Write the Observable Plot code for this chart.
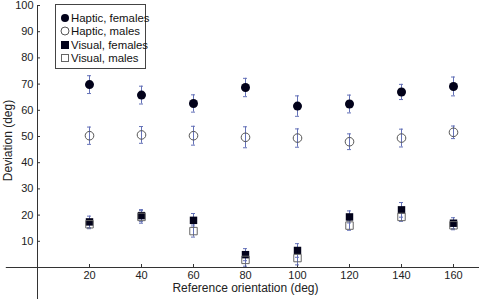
<!DOCTYPE html>
<html>
<head>
<meta charset="utf-8">
<script src="https://cdn.jsdelivr.net/npm/d3@7"></script>
<script src="https://cdn.jsdelivr.net/npm/@observablehq/plot@0.6"></script>
<style>
  html, body { margin: 0; padding: 0; background: #fff; }
  #chart { position: relative; width: 481px; height: 299px; font-family: "Liberation Sans", Arial, sans-serif; }
  #legend { position: absolute; left: 55px; top: 4px; width: 89px; height: 63px; border: 1px solid #444; background: #fff; font-size: 11.4px; color: #111; }
  #legend .row { position: absolute; left: 0; height: 14px; line-height: 14px; white-space: nowrap; }
  #legend svg { position: absolute; left: 4px; top: 2px; }
  #legend span { position: absolute; left: 15px; top: 0; }
</style>
</head>
<body>
<div id="chart"></div>
<script>
const orientations = [20, 40, 60, 80, 100, 120, 140, 160];
const hapticFemales = [69.8, 65.8, 62.6, 68.7, 61.6, 62.4, 67.0, 69.1];
const hapticFemalesErr = [3.4, 3.4, 3.3, 3.5, 3.9, 3.4, 2.9, 3.6];
const hapticMales = [50.3, 50.6, 50.3, 49.7, 49.4, 48.0, 49.4, 51.6];
const hapticMalesErr = [3.3, 3.2, 3.6, 4.0, 3.5, 3.0, 3.4, 2.4];
const visualFemales = [17.4, 19.8, 18.0, 4.9, 6.5, 19.3, 22.0, 16.9];
const visualFemalesErr = [2.2, 2.3, 2.6, 2.3, 2.6, 2.3, 2.8, 2.1];
const visualMales = [16.5, 19.3, 13.9, 2.9, 3.6, 16.0, 19.3, 16.1];
const visualMalesErr = [1.7, 2.4, 2.3, 2.4, 2.6, 1.8, 1.7, 1.7];
const seriesNames = ["Haptic, females", "Haptic, males", "Visual, females", "Visual, males"];
const xTicks = [20, 40, 60, 80, 100, 120, 140, 160];
const yTicks = [10, 20, 30, 40, 50, 60, 70, 80, 90, 100];
const xLabel = "Reference orientation (deg)";
const yLabel = "Deviation (deg)";

const seriesValues = [hapticFemales, hapticMales, visualFemales, visualMales];
const seriesErrs = [hapticFemalesErr, hapticMalesErr, visualFemalesErr, visualMalesErr];
const styles = [
  {symbol: "circle", fill: "#02021a", stroke: "none", r: 4.5},
  {symbol: "circle", fill: "none", stroke: "#555", r: 4.3},
  {symbol: "square", fill: "#02021a", stroke: "none", r: 4.2},
  {symbol: "square", fill: "none", stroke: "#666", r: 4.2}
];
const rows = [];
seriesNames.forEach((name, s) => {
  orientations.forEach((x, i) => {
    rows.push({series: name, s, x, y: seriesValues[s][i], lo: seriesValues[s][i] - seriesErrs[s][i], hi: seriesValues[s][i] + seriesErrs[s][i]});
  });
});

const axisColor = "#333";
const errColor = "#6572b8";
const font = "Liberation Sans, Arial, sans-serif";

const plot = Plot.plot({
  width: 481,
  height: 299,
  marginLeft: 37,
  marginRight: 28,
  marginTop: 5,
  marginBottom: 32,
  style: {fontFamily: font, fontSize: "11px", color: "#222", background: "#fff"},
  x: {domain: [0, 160]},
  y: {domain: [0, 100]},
  marks: [
    Plot.ruleY([0], {x1: -12, x2: 170, stroke: axisColor, clip: false}),
    Plot.ruleX([0], {y1: -13, y2: 100, stroke: axisColor, clip: false}),
    Plot.axisX({ticks: xTicks, tickSize: -3, tickPadding: 7, stroke: axisColor, label: null, fontSize: 11, fill: "#222"}),
    Plot.axisY({ticks: yTicks, tickSize: -3, tickPadding: 7, stroke: axisColor, label: null, fontSize: 11, fill: "#222"}),
    Plot.text([xLabel], {frameAnchor: "bottom", dy: 24, fontSize: 12, fill: "#222"}),
    Plot.text([yLabel], {frameAnchor: "left", textAnchor: "middle", dx: -29, dy: 4, rotate: -90, fontSize: 12, fill: "#222"}),
    Plot.ruleX(rows, {x: "x", y1: "lo", y2: "hi", stroke: errColor, strokeWidth: 1}),
    Plot.ruleY(rows, {x1: "x", x2: "x", y: "hi", insetLeft: -2, insetRight: -2, stroke: errColor}),
    Plot.ruleY(rows, {x1: "x", x2: "x", y: "lo", insetLeft: -2, insetRight: -2, stroke: errColor}),
    ...styles.map((st, s) => Plot.dot(rows.filter(d => d.s === s), {x: "x", y: "y", symbol: st.symbol, r: st.r, fill: st.fill, stroke: st.stroke, strokeWidth: 1}))
  ]
});

const chart = document.getElementById("chart");
chart.appendChild(plot);

const legend = document.createElement("div");
legend.id = "legend";
seriesNames.forEach((name, s) => {
  const st = styles[s];
  const row = document.createElement("div");
  row.className = "row";
  row.style.top = (6 + s * 13.4) + "px";
  const sym = st.symbol === "circle"
    ? `<circle cx="5" cy="5" r="4" fill="${st.fill}" stroke="${st.stroke}"/>`
    : (st.fill === "none"
        ? `<rect x="1.5" y="1.5" width="7" height="7" fill="none" stroke="${st.stroke}"/>`
        : `<rect x="1" y="1" width="8" height="8" fill="${st.fill}"/>`);
  row.innerHTML = `<svg width="10" height="10">${sym}</svg><span>${name}</span>`;
  legend.appendChild(row);
});
chart.appendChild(legend);
</script>
</body>
</html>
